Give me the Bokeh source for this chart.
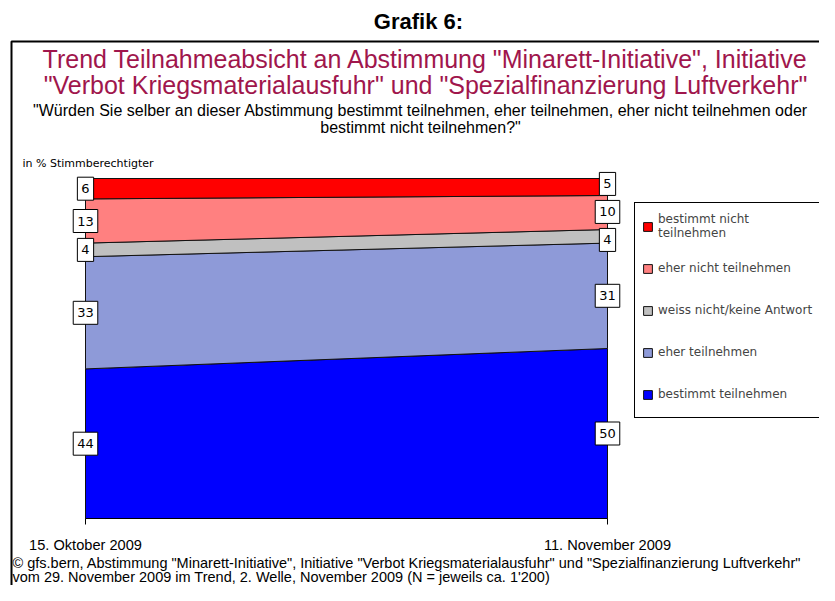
import numpy as np
from bokeh.plotting import figure
from bokeh.models import (ColumnDataSource, Range1d, Label, Legend,
                          LegendItem, BoxAnnotation)
from bokeh.core.properties import value
from bokeh.embed import file_html
from bokeh.resources import INLINE

# ---------------- data ----------------
dates = ["15. Oktober 2009", "11. November 2009"]
bestimmt_teilnehmen = [44, 50]
eher_teilnehmen = [33, 31]
weiss_nicht = [4, 4]
eher_nicht_teilnehmen = [13, 10]
bestimmt_nicht_teilnehmen = [6, 5]
legend_labels = ["bestimmt teilnehmen", "eher teilnehmen", "weiss nicht/keine Antwort",
                 "eher nicht teilnehmen", "bestimmt nicht\nteilnehmen"]
colors = ["#0000FF", "#8E9AD8", "#C0C0C0", "#FF8080", "#FF0000"]

series = [bestimmt_teilnehmen, eher_teilnehmen, weiss_nicht,
          eher_nicht_teilnehmen, bestimmt_nicht_teilnehmen]
xs = [0, 1]

# ---------------- layout ----------------
W, H, OFF = 819, 585, 0
PX_L, PX_R, PX_B, PX_T = 85, 607, 518, 178
SX = (PX_R - PX_L) / (xs[1] - xs[0])
SY = (PX_B - PX_T) / 100.0


def X(ix):
    return xs[0] + (ix - PX_L) / SX


def Y(iy):
    return (PX_B - iy) / SY


p = figure(width=W, height=H, x_range=Range1d(X(OFF), X(OFF + W)),
           y_range=Range1d(Y(OFF + H), Y(OFF)), output_backend="svg",
           toolbar_location=None, tools="", min_border=0, title=None,
           x_axis_location=None, y_axis_location=None)
p.outline_line_color = None
p.grid.grid_line_color = None
p.background_fill_color = "white"
p.border_fill_color = "white"

# outer frame
p.add_layout(BoxAnnotation(left=X(11), right=X(1000), top=Y(41), bottom=Y(800),
                           fill_color=None, line_color="black", line_alpha=1,
                           line_width=2))

# stacked areas
lower = np.zeros(len(xs))
renderers = []
for vals, col in zip(series, colors):
    upper = lower + np.array(vals, dtype=float)
    src = ColumnDataSource(dict(x=list(xs) + list(xs[::-1]),
                                y=list(upper) + list(lower[::-1])))
    r = p.patch("x", "y", source=src, fill_color=col, line_color="#111111", line_width=1)
    renderers.append(r)
    lower = upper

# x axis
p.line(xs, [0, 0], line_color="black", line_width=1)
p.ray(x=xs, y=[0, 0], length=6, length_units="screen", angle=-np.pi / 2,
      line_color="black", line_width=1)
p.text(x=xs, y=[0, 0], text=dates, y_offset=26, text_align="center",
       text_baseline="middle", text_font=value("Liberation Sans"),
       text_font_size="14.6px", text_color="black")

# value labels at band midpoints with simple de-overlap
min_gap = 28 / SY
for i, xv in enumerate(xs):
    vals = [s[i] for s in series]
    cum = np.cumsum(vals)
    mids = list(cum - np.array(vals) / 2.0)
    for _ in range(50):
        for k in range(len(mids) - 1):
            gap = mids[k + 1] - mids[k]
            if gap < min_gap:
                d = (min_gap - gap) / 2.0
                mids[k] -= d
                mids[k + 1] += d
    for v, m in zip(vals, mids):
        p.add_layout(Label(x=xv, y=m, text=str(v), text_align="center",
                           text_baseline="middle", text_font="DejaVu Sans",
                           text_font_size="13px", text_color="black",
                           background_fill_color="white", border_line_color="black",
                           border_line_width=1,
                           padding=dict(left=4, right=4, top=7, bottom=7)))

# legend
items = [LegendItem(label=lab, renderers=[r])
         for lab, r in zip(legend_labels[::-1], renderers[::-1])]
legend = Legend(items=items, location=(634, H - 418), label_text_font="DejaVu Sans",
                label_text_font_size="12px", glyph_width=11, glyph_height=11,
                label_standoff=5, padding=7, spacing=10, margin=0, label_height=32,
                border_line_color="black", border_line_alpha=1, border_line_width=1,
                background_fill_color="white", background_fill_alpha=1)
p.add_layout(legend)

# texts
p.add_layout(Label(x=X(418), y=Y(21), text="Grafik 6:", text_align="center",
                   text_baseline="middle", text_font="Liberation Sans",
                   text_font_style="bold", text_font_size="22px", text_color="black"))
title_lines = ["Trend Teilnahmeabsicht an Abstimmung \"Minarett-Initiative\", Initiative",
               "\"Verbot Kriegsmaterialausfuhr\" und \"Spezialfinanzierung Luftverkehr\""]
for ty, t in zip([58, 84], title_lines):
    p.add_layout(Label(x=X(425), y=Y(ty), text=t, text_align="center",
                       text_baseline="middle", text_font="Liberation Sans",
                       text_font_size="25px", text_color="#A0164C"))
sub_lines = ["\"Würden Sie selber an dieser Abstimmung bestimmt teilnehmen, eher teilnehmen, eher nicht teilnehmen oder",
             "bestimmt nicht teilnehmen?\""]
for ty, t in zip([110, 127], sub_lines):
    p.add_layout(Label(x=X(420), y=Y(ty), text=t, text_align="center",
                       text_baseline="middle", text_font="Liberation Sans",
                       text_font_size="16px", text_color="black"))
p.add_layout(Label(x=X(22), y=Y(163), text="in % Stimmberechtigter", text_align="left",
                   text_baseline="middle", text_font="DejaVu Sans",
                   text_font_size="11px", text_color="black"))
foot_lines = ["© gfs.bern, Abstimmung \"Minarett-Initiative\", Initiative \"Verbot Kriegsmaterialausfuhr\" und \"Spezialfinanzierung Luftverkehr\"",
              "vom 29. November 2009 im Trend, 2. Welle, November 2009 (N = jeweils ca. 1'200)"]
for ty, t in zip([562, 576], foot_lines):
    p.add_layout(Label(x=X(12), y=Y(ty), text=t, text_align="left",
                       text_baseline="middle", text_font="Liberation Sans",
                       text_font_size="14.5px", text_color="black"))

open("out.html", "w").write(file_html(p, INLINE))
